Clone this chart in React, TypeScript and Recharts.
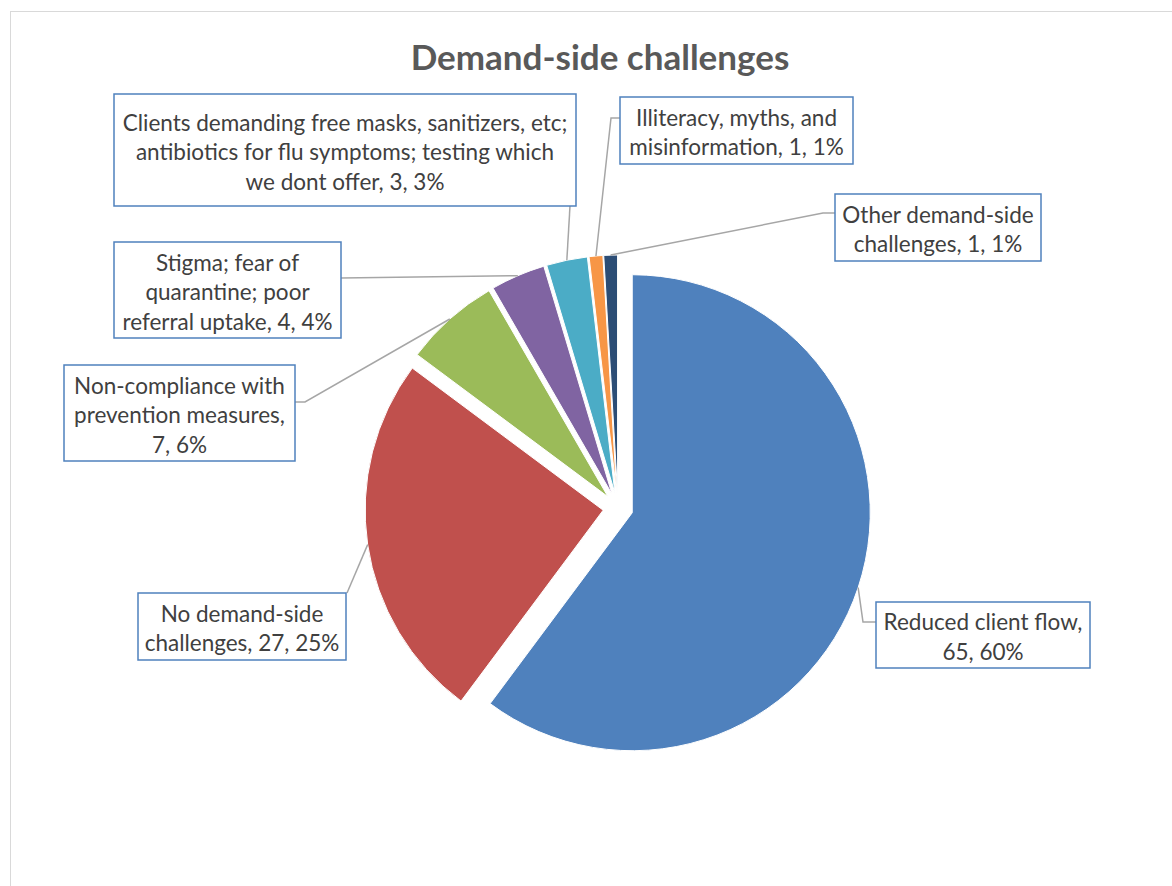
import { PieChart, Pie, Cell, Sector } from 'recharts'

const categories = [
  'Reduced client flow',
  'No demand-side challenges',
  'Non-compliance with prevention measures',
  'Stigma; fear of quarantine; poor referral uptake',
  'Clients demanding free masks, sanitizers, etc; antibiotics for flu symptoms; testing which we dont offer',
  'Illiteracy, myths, and misinformation',
  'Other demand-side challenges',
]
const counts = [65, 27, 7, 4, 3, 1, 1]
const colors = ['#4F81BD', '#C0504D', '#9BBB59', '#8064A2', '#4BACC6', '#F79646', '#2C4D75']

const data = categories.map((name, i) => ({ name, value: counts[i] }))
const total = counts.reduce((a, b) => a + b, 0)

const RAD = Math.PI / 180
const EXPLODE = 15
const FONT = 'Lato, "Open Sans", sans-serif'

// where each data label box sits, and the bend of its leader line
// maxChars: per-line wrap limit (last value repeats)
const boxes = [
  { x: 876, y: 602, w: 214, h: 66, maxChars: [20], elbow: [863, 622], end: [876, 622] },
  { x: 138, y: 593, w: 208, h: 67, maxChars: [19], elbow: [347, 593], end: [347, 593] },
  { x: 64, y: 365, w: 231, h: 96, maxChars: [20], elbow: [305, 402], end: [295, 402] },
  { x: 114, y: 242, w: 227, h: 96, maxChars: [22], elbow: [341, 278], end: [341, 278] },
  { x: 114, y: 94, w: 462, h: 112, maxChars: [47, 44], elbow: [570, 206], end: [570, 206] },
  { x: 620, y: 97, w: 233, h: 67, maxChars: [22], elbow: [611, 118], end: [620, 118] },
  { x: 835, y: 194, w: 206, h: 67, maxChars: [17], elbow: [823, 213], end: [835, 213] },
]

const wrap = (text: string, max: number[]) => {
  const lines: string[] = []
  let cur = ''
  const lim = () => max[Math.min(lines.length, max.length - 1)]
  text.split(' ').forEach(w => {
    if (cur && (cur + ' ' + w).length > lim()) {
      lines.push(cur)
      cur = w
    } else cur = cur ? cur + ' ' + w : w
  })
  if (cur) lines.push(cur)
  return lines
}

const ExplodedSlice = (props: any) => {
  const dx = EXPLODE * Math.cos(-props.midAngle * RAD)
  const dy = EXPLODE * Math.sin(-props.midAngle * RAD)
  return <Sector {...props} cx={props.cx + dx} cy={props.cy + dy} stroke="#fff" strokeWidth={1} />
}

const renderLabel = (props: any) => {
  const { cx, cy, midAngle, outerRadius, index, name, value } = props
  const b = boxes[index]
  const r = outerRadius + EXPLODE
  const ax = cx + r * Math.cos(-midAngle * RAD)
  const ay = cy + r * Math.sin(-midAngle * RAD)
  const pct = Math.round((value / total) * 100)
  const lines = wrap(`${name}, ${value}, ${pct}%`, b.maxChars)
  const lh = 29.5
  const startY = b.y + b.h / 2 - ((lines.length - 1) * lh) / 2 + 1.5
  return (
    <g key={index}>
      <polyline
        points={`${ax},${ay} ${b.elbow[0]},${b.elbow[1]} ${b.end[0]},${b.end[1]}`}
        fill="none" stroke="#a6a6a6" strokeWidth={1.5} />
      <rect x={b.x} y={b.y} width={b.w} height={b.h} fill="#fff" stroke="#4F81BD" strokeWidth={1.5} />
      <text x={b.x + b.w / 2} y={startY} textAnchor="middle" fill="#404040"
        fontFamily={FONT} fontSize={22.5}>
        {lines.map((l, i) => (
          <tspan key={i} x={b.x + b.w / 2} y={startY + i * lh} dominantBaseline="central">{l}</tspan>
        ))}
      </text>
    </g>
  )
}

export default function App() {
  return (
    <div style={{ position: 'absolute', left: 0, top: 0, width: 1172, height: 886, overflow: 'hidden', background: '#fff' }}>
      <div style={{ position: 'absolute', left: 10, top: 11, width: 1300, height: 1000, border: '1.5px solid #d9d9d9' }} />
      <div style={{
        position: 'absolute', left: 0, top: 35, width: 1200, textAlign: 'center',
        fontFamily: FONT, fontWeight: 700, fontSize: 35, color: '#595959',
      }}>Demand-side challenges</div>
      <div style={{ position: 'absolute', left: 0, top: 0 }}>
        <PieChart width={1172} height={886} margin={{ top: 0, right: 0, bottom: 0, left: 0 }}>
          <Pie
            data={data}
            dataKey="value"
            nameKey="name"
            cx={618}
            cy={508}
            outerRadius={238}
            startAngle={90}
            endAngle={-270}
            shape={ExplodedSlice}
            label={renderLabel}
            labelLine={false}
            isAnimationActive={false}
          >
            {data.map((d, i) => <Cell key={i} fill={colors[i]} />)}
          </Pie>
        </PieChart>
      </div>
    </div>
  )
}
